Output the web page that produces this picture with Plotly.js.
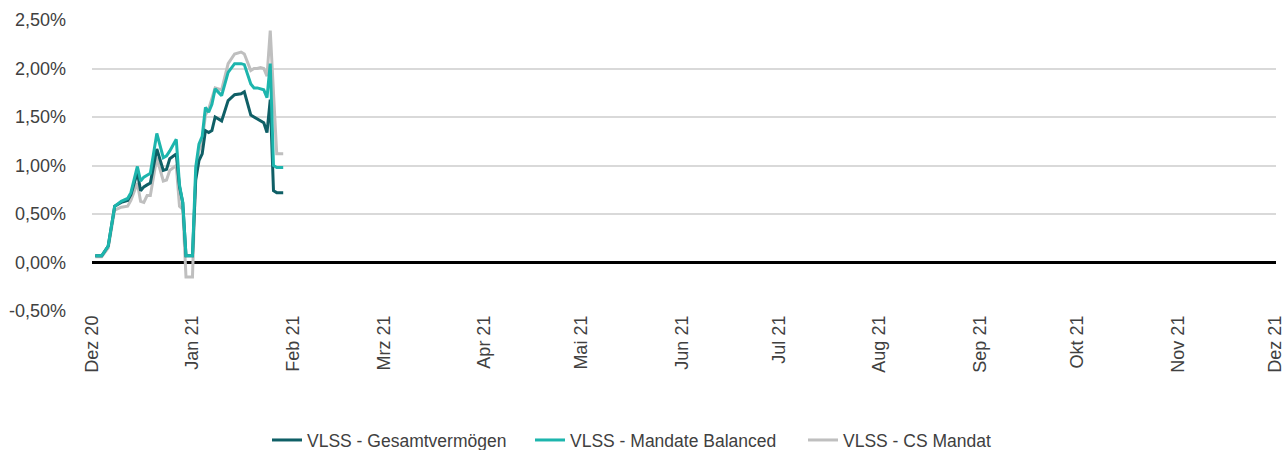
<!DOCTYPE html>
<html>
<head>
<meta charset="utf-8">
<script src="https://cdn.plot.ly/plotly-3.0.1.min.js"></script>
<style>
html,body{margin:0;padding:0;background:#fff;}
#chart{width:1287px;height:450px;}
</style>
</head>
<body>
<div id="chart"></div>
<script>
// Dates of the line vertices (daily returns, Dec 2020 - Jan 2021)
const dates = [
  '2020-12-02','2020-12-04','2020-12-06','2020-12-08','2020-12-10','2020-12-12','2020-12-13',
  '2020-12-15','2020-12-16','2020-12-17','2020-12-18','2020-12-19','2020-12-21','2020-12-23',
  '2020-12-24','2020-12-25','2020-12-27','2020-12-28','2020-12-29','2020-12-30','2020-12-31',
  '2021-01-01','2021-01-02','2021-01-03','2021-01-04','2021-01-05','2021-01-06','2021-01-07',
  '2021-01-08','2021-01-10','2021-01-12','2021-01-14','2021-01-16','2021-01-17','2021-01-19',
  '2021-01-20','2021-01-21','2021-01-22','2021-01-23','2021-01-24','2021-01-25','2021-01-26',
  '2021-01-27','2021-01-29'
];
// Values in percent
const gesamtvermoegen = [
  0.07,0.07,0.17,0.58,0.62,0.64,0.70,
  0.93,0.74,0.78,0.80,0.82,1.17,0.95,
  0.96,1.07,1.12,0.78,0.62,0.07,0.07,
  0.07,0.85,1.05,1.12,1.36,1.34,1.36,
  1.50,1.46,1.67,1.73,1.74,1.76,1.52,
  1.50,1.48,1.46,1.44,1.34,1.68,0.74,
  0.72,0.72
];
const mandateBalanced = [
  0.07,0.07,0.17,0.58,0.63,0.66,0.72,
  0.99,0.84,0.88,0.90,0.92,1.33,1.08,
  1.10,1.15,1.27,0.80,0.62,0.07,0.07,
  0.07,0.98,1.22,1.30,1.60,1.55,1.63,
  1.79,1.72,1.96,2.05,2.05,2.04,1.84,
  1.80,1.80,1.79,1.78,1.70,2.05,1.00,
  0.98,0.98
];
const csMandat = [
  0.06,0.06,0.15,0.54,0.57,0.58,0.64,
  0.82,0.63,0.62,0.69,0.69,1.08,0.84,
  0.85,0.95,1.00,0.58,0.55,-0.15,-0.15,
  -0.15,0.90,1.15,1.25,1.52,1.58,1.70,
  1.80,1.78,2.05,2.15,2.17,2.15,1.98,
  2.00,2.00,2.01,2.00,1.92,2.39,1.75,
  1.12,1.12
];
const seriesNames = ['VLSS - Gesamtvermögen','VLSS - Mandate Balanced','VLSS - CS Mandat'];
const tickDates = ['2020-12-01','2021-01-01','2021-02-01','2021-03-01','2021-04-01','2021-05-01',
  '2021-06-01','2021-07-01','2021-08-01','2021-09-01','2021-10-01','2021-11-01','2021-12-01'];
const tickLabels = ['Dez 20','Jan 21','Feb 21','Mrz 21','Apr 21','Mai 21','Jun 21','Jul 21',
  'Aug 21','Sep 21','Okt 21','Nov 21','Dez 21'];
const yTickVals = [-0.5,0,0.5,1,1.5,2,2.5];
const yTickLabels = ['-0,50%','0,00%','0,50%','1,00%','1,50%','2,00%','2,50%'];

const traces = [
  {x: dates, y: csMandat, name: seriesNames[2], legend: 'legend3',
   type: 'scatter', mode: 'lines', line: {color: '#bfbfbf', width: 3}},
  {x: dates, y: gesamtvermoegen, name: seriesNames[0], legend: 'legend',
   type: 'scatter', mode: 'lines', line: {color: '#0f5f66', width: 3}},
  {x: dates, y: mandateBalanced, name: seriesNames[1], legend: 'legend2',
   type: 'scatter', mode: 'lines', line: {color: '#1db5ad', width: 3}}
];

function leg(xpx) {
  return {orientation: 'h', xref: 'container', yref: 'container', x: xpx / 1287, xanchor: 'left',
          y: 0.022, yanchor: 'middle', font: {size: 17.5, color: '#404040'},
          itemwidth: 30, bgcolor: 'rgba(0,0,0,0)'};
}

const layout = {
  width: 1287, height: 450,
  margin: {l: 92, r: 11, t: 20, b: 139},
  paper_bgcolor: '#ffffff', plot_bgcolor: '#ffffff',
  font: {family: 'Liberation Sans, Arial, sans-serif', size: 18, color: '#404040'},
  showlegend: true,
  legend: leg(267), legend2: leg(530), legend3: leg(803),
  xaxis: {type: 'date', range: ['2020-12-01','2021-12-01 08:00'], tickmode: 'array',
          tickvals: tickDates, ticktext: tickLabels, tickangle: -90, showgrid: false,
          zeroline: false, showline: false, ticks: '', ticklen: 0, tickfont: {size: 18},
          ticklabeloverflow: 'allow'},
  yaxis: {range: [-0.5, 2.5], tickmode: 'array', tickvals: yTickVals, ticktext: yTickLabels,
          showgrid: true, gridcolor: '#d9d9d9', gridwidth: 2, zeroline: true,
          zerolinecolor: '#000000', zerolinewidth: 3, showline: false, ticks: '',
          tickfont: {size: 18}, ticklabelstandoff: 25}
};
Plotly.newPlot('chart', traces, layout, {displayModeBar: false, staticPlot: true});
</script>
</body>
</html>
